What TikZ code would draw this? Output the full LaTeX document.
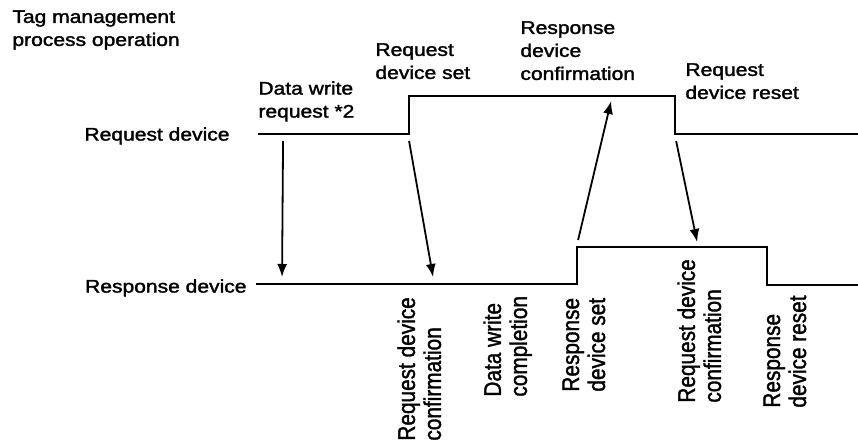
\documentclass[tikz,border=0pt]{standalone}
\usepackage{fontspec}
\setmainfont{Liberation Sans}[BoldFont={Liberation Sans},BoldFeatures={FakeBold=1.6}]
\usetikzlibrary{arrows.meta}
\begin{document}
\begin{tikzpicture}[x=0.43253pt,y=-0.5pt,xscale=1.156,
  lbl/.style={inner sep=0pt,align=left,transform shape,anchor=north west,font=\fontsize{9.1}{11.5}\selectfont\bfseries},
  rlbl/.style={inner sep=0pt,align=right,transform shape,anchor=north east,font=\fontsize{9.1}{11.5}\selectfont\bfseries},
  vlbl/.style={inner sep=0pt,align=left,transform shape,rotate=90,anchor=north west,font=\fontsize{10.4}{11.25}\selectfont\bfseries},
  wave/.style={line width=1.2pt,line join=miter},
  sig/.style={line width=0.9pt,-{Latex[length=6.5pt,width=5pt]}}]
\useasboundingbox (0,0) rectangle (858,443);

% waveform corners
\coordinate (q0) at (258,134);
\coordinate (q1) at (409,134);
\coordinate (q2) at (409,96);
\coordinate (q3) at (675,96);
\coordinate (q4) at (675,134);
\coordinate (q5) at (858,134);
\coordinate (r0) at (256,284);
\coordinate (r1) at (577,284);
\coordinate (r2) at (577,247);
\coordinate (r3) at (767,247);
\coordinate (r4) at (767,285);
\coordinate (r5) at (858,285);

\draw[wave] (q0) -- (q1) -- (q2) -- (q3) -- (q4) -- (q5);
\draw[wave] (r0) -- (r1) -- (r2) -- (r3) -- (r4) -- (r5);

% arrow end points
\coordinate (a1s) at (283,141);
\coordinate (a1e) at (282,277);
\coordinate (a2s) at (409,141);
\coordinate (a2e) at (433,277);
\coordinate (a3s) at (578,240);
\coordinate (a3e) at (611,101);
\coordinate (a4s) at (676,141);
\coordinate (a4e) at (697,242);

\draw[sig] (a1s) -- (a1e);
\draw[sig] (a2s) -- (a2e);
\draw[sig] (a3s) -- (a3e);
\draw[sig] (a4s) -- (a4e);

% horizontal labels
\node[lbl] (title) at (12,10) {Tag management\\process operation};
\node[rlbl] (reqdev) at (230,127) {Request device};
\node[rlbl] (resdev) at (247,279) {Response device};
\node[lbl] (dwreq) at (258,81) {Data write\\request *2};
\node[lbl] (rqset) at (375,43) {Request\\device set};
\node[lbl] (rsconf) at (520,21) {Response\\device\\confirmation};
\node[lbl] (rqreset) at (685,63) {Request\\device reset};

% rotated labels
\node[vlbl] (rqconf1) at (397,441) {Request device\\confirmation};
\node[vlbl] (dwcomp) at (483,397) {Data write\\completion};
\node[vlbl] (rsset) at (562,392) {Response\\device set};
\node[vlbl] (rqconf2) at (677,403) {Request device\\confirmation};
\node[vlbl] (rsreset) at (763,408) {Response\\device reset};
\end{tikzpicture}
\end{document}
